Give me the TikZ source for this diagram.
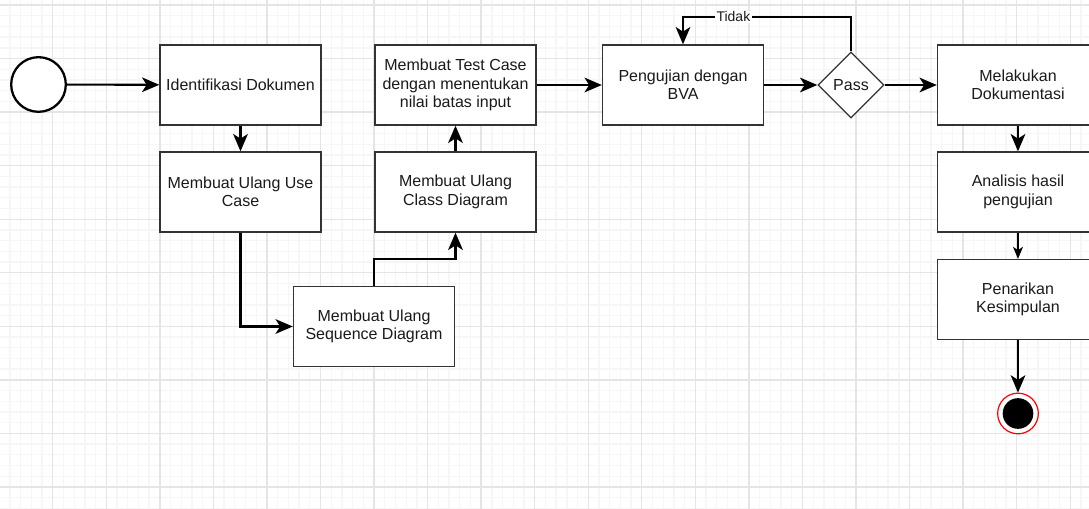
\documentclass[tikz,border=0pt]{standalone}
\usepackage{fontspec}
\setmainfont{Liberation Sans}
\usetikzlibrary{shapes.geometric,arrows.meta}
\definecolor{gmajor}{HTML}{E5E5E5}
\definecolor{gminor}{HTML}{F6F6F6}
\definecolor{txt}{HTML}{1A1A1A}
\definecolor{border}{HTML}{333333}
\begin{document}
\begin{tikzpicture}[x=0.75pt,y=-0.75pt,
  box/.style={draw=border, line width=1pt, fill=white, minimum width=120.75pt,
    minimum height=60pt, inner sep=2pt, align=center,
    font=\fontsize{12}{13.7}\selectfont, text=txt},
  decision/.style={diamond, aspect=1, draw=border, line width=1pt, fill=white,
    minimum size=49.5pt, inner sep=0pt, font=\fontsize{12}{13.7}\selectfont, text=txt},
  startnode/.style={circle, draw=black, line width=1.7pt, fill=white, minimum size=41pt, inner sep=0pt},
  endring/.style={circle, draw=red, line width=0.9pt, fill=white, minimum size=30.5pt, inner sep=0pt},
  endcore/.style={circle, fill=black, minimum size=23pt, inner sep=0pt},
  conn/.style={line width=1.6pt, -{Stealth[length=13pt,width=11pt,inset=3.5pt]}},
  thinconn/.style={line width=0.8pt, -{Stealth[length=9pt,width=7.5pt,inset=2.5pt]}},
  lbl/.style={fill=white, inner sep=1pt, font=\fontsize{10.5}{12}\selectfont, text=txt}
]
\useasboundingbox (0,0) rectangle (1089,509);
\clip (0,0) rectangle (1089,509);
\fill[white] (0,0) rectangle (1089,509);
% grid
\foreach \i in {0,...,102}{
  \draw[gminor, line width=1pt] ({-0.8+10.71*\i},0) -- ({-0.8+10.71*\i},509);
}
\foreach \i in {0,...,47}{
  \draw[gminor, line width=1pt] (0,{5+10.71*\i}) -- (1089,{5+10.71*\i});
}
\foreach \i in {0,...,20}{
  \draw[gmajor, line width=1pt] ({-0.8+53.55*\i},0) -- ({-0.8+53.55*\i},509);
}
\foreach \i in {0,...,9}{
  \draw[gmajor, line width=1pt] (0,{5+53.55*\i}) -- (1089,{5+53.55*\i});
}

% nodes
\node[startnode] (start) at (38.5,84.5) {};
\node[box] (ident) at (240.5,85) {Identifikasi Dokumen};
\node[box] (usecase) at (240.5,192) {Membuat Ulang Use\\Case};
\node[box] (seq) at (374,326.5) {Membuat Ulang\\Sequence Diagram};
\node[box] (class) at (455.5,192) {Membuat Ulang\\Class Diagram};
\node[box] (test) at (455.5,85) {Membuat Test Case\\dengan menentukan\\nilai batas input};
\node[box] (uji) at (683,85) {Pengujian dengan\\BVA};
\node[decision] (pass) at (851,85) {Pass};
\node[box] (dok) at (1018,85) {Melakukan\\Dokumentasi};
\node[box] (anal) at (1018,192) {Analisis hasil\\pengujian};
\node[box] (tarik) at (1018,299.5) {Penarikan\\Kesimpulan};
\node[endring] (end) at (1018,413.5) {};
\node[endcore] (endin) at (end.center) {};

\coordinate (k1) at (455.5,259);
\coordinate (tA) at (851,17);
\coordinate (tB) at (683,17);

% connectors
\draw[conn] (start) -- (ident);
\draw[conn] (ident) -- (usecase);
\draw[conn] (usecase.south) |- (seq.west);
\draw[conn] (seq.north) |- (k1) -- (class.south);
\draw[conn] (class) -- (test);
\draw[conn] (test) -- (uji);
\draw[conn] (uji) -- (pass);
\draw[conn] (pass) -- (dok);
\draw[conn] (pass.north) -- (tA) -- node[lbl, pos=0.7] {Tidak} (tB) -- (uji.north);
\draw[conn] (dok) -- (anal);
\draw[thinconn] (anal) -- (tarik);
\draw[conn] (tarik) -- (end);
\end{tikzpicture}
\end{document}
